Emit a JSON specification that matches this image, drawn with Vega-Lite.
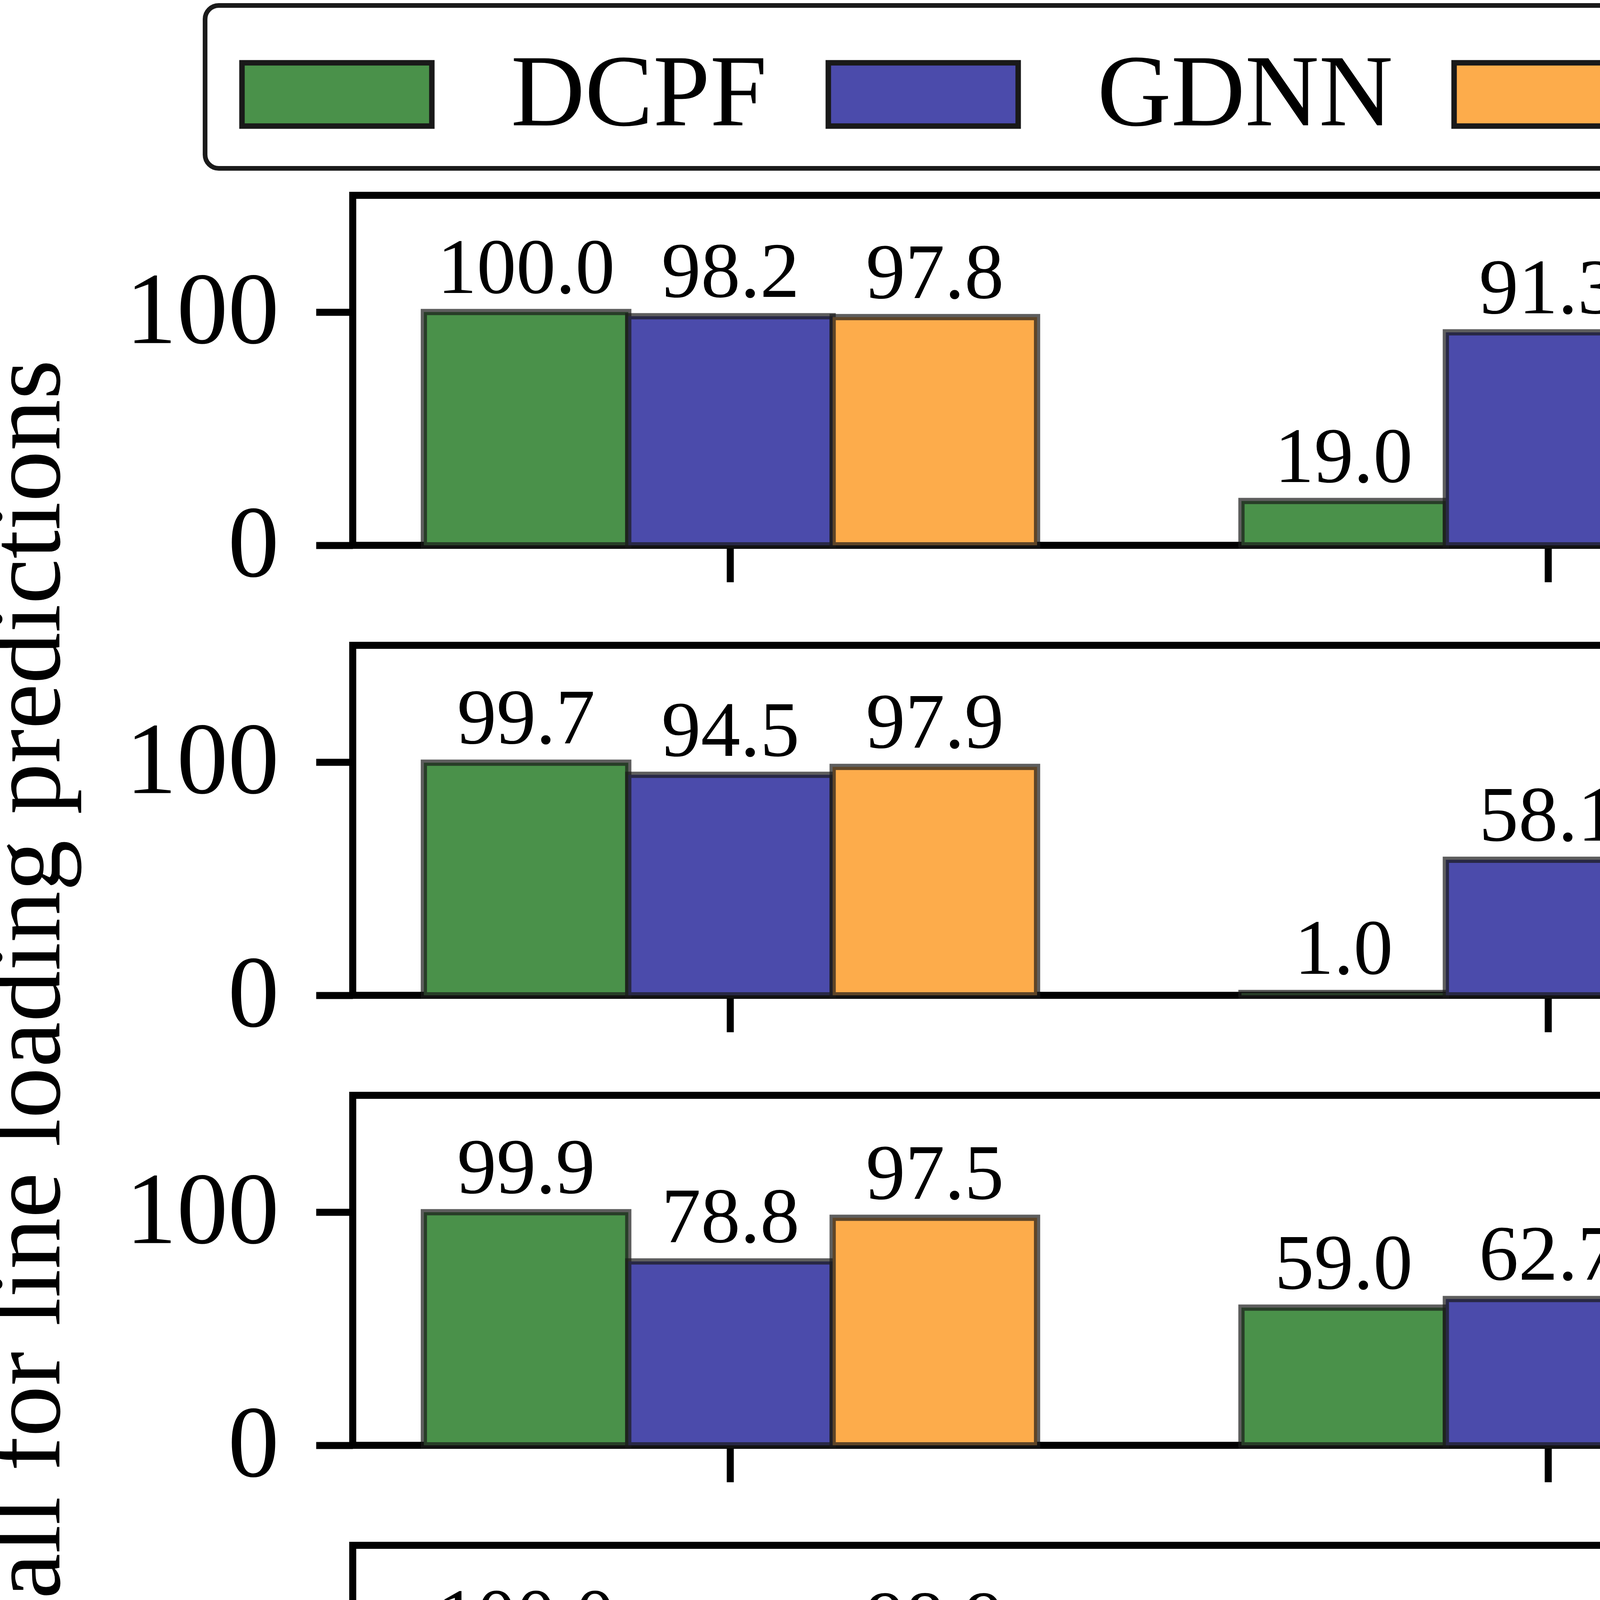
{
  "$schema": "https://vega.github.io/schema/vega-lite/v6.json",
  "background": "white",
  "padding": {"left": -59, "top": 8, "right": 0, "bottom": 0},
  "title": {"text": "% Recall for line loading predictions", "orient": "left", "anchor": "middle", "offset": -157, "dx": -232, "fontSize": 262, "font": "Liberation Serif", "fontWeight": "normal", "color": "black", "frame": "bounds", "baseline": "bottom"},
  "config": {
    "view": {"stroke": "black", "strokeWidth": 18},
    "axis": {"labelFont": "Liberation Serif", "titleFont": "Liberation Serif", "titleFontWeight": "normal", "labelColor": "black", "titleColor": "black", "tickColor": "black", "grid": false, "labelLimit": 0},
    "text": {"font": "Liberation Serif", "color": "black"},
    "legend": {
      "orient": "none", "legendX": -378, "legendY": -486, "direction": "horizontal",
      "strokeColor": "#1a1a1a", "strokeWidth": 12, "cornerRadius": 35, "fillColor": "white", "padding": 58,
      "symbolType": "M-1.5,-0.5H1.5V0.5H-1.5Z", "symbolSize": 105000, "symbolStrokeColor": "#191919", "symbolStrokeWidth": 14, "symbolOpacity": 1, "symbolOffset": 110,
      "labelFont": "Liberation Serif", "labelFontSize": 262, "labelOffset": 276, "labelColor": "black", "columnPadding": 120, "labelLimit": 0
    }
  },
  "datasets": {
    "recall": [
      {"system": "6 bus", "condition": "Un-congested", "method": "DCPF", "value": 100.0},
      {"system": "6 bus", "condition": "Un-congested", "method": "GDNN", "value": 98.2},
      {"system": "6 bus", "condition": "Un-congested", "method": "EVGNN", "value": 97.8},
      {"system": "6 bus", "condition": "Congested", "method": "DCPF", "value": 19.0},
      {"system": "6 bus", "condition": "Congested", "method": "GDNN", "value": 91.3},
      {"system": "6 bus", "condition": "Congested", "method": "EVGNN", "value": 98.7},
      {"system": "24 bus", "condition": "Un-congested", "method": "DCPF", "value": 99.7},
      {"system": "24 bus", "condition": "Un-congested", "method": "GDNN", "value": 94.5},
      {"system": "24 bus", "condition": "Un-congested", "method": "EVGNN", "value": 97.9},
      {"system": "24 bus", "condition": "Congested", "method": "DCPF", "value": 1.0},
      {"system": "24 bus", "condition": "Congested", "method": "GDNN", "value": 58.1},
      {"system": "24 bus", "condition": "Congested", "method": "EVGNN", "value": 36.0},
      {"system": "57 bus", "condition": "Un-congested", "method": "DCPF", "value": 99.9},
      {"system": "57 bus", "condition": "Un-congested", "method": "GDNN", "value": 78.8},
      {"system": "57 bus", "condition": "Un-congested", "method": "EVGNN", "value": 97.5},
      {"system": "57 bus", "condition": "Congested", "method": "DCPF", "value": 59.0},
      {"system": "57 bus", "condition": "Congested", "method": "GDNN", "value": 62.7},
      {"system": "57 bus", "condition": "Congested", "method": "EVGNN", "value": 38.6},
      {"system": "118 bus", "condition": "Un-congested", "method": "DCPF", "value": 100.0},
      {"system": "118 bus", "condition": "Un-congested", "method": "GDNN", "value": 88.1},
      {"system": "118 bus", "condition": "Un-congested", "method": "EVGNN", "value": 98.9},
      {"system": "118 bus", "condition": "Congested", "method": "GDNN", "value": 42.3},
      {"system": "118 bus", "condition": "Congested", "method": "EVGNN", "value": 34.7}
    ]
  },
  "columns": 2,
  "spacing": {"row": 107, "column": 75},
  "resolve": {"scale": {"color": "shared", "x": "independent", "y": "independent"}, "legend": {"color": "shared"}},
  "concat": [
    {
      "width": 4027, "height": 896,
      "data": {"name": "recall"},
      "transform": [{"filter": "datum.system === '6 bus'"}],
      "encoding": {
        "x": {"field": "condition", "type": "nominal", "sort": ["Un-congested", "Congested"], "scale": {"paddingInner": 0.25, "paddingOuter": 0.087}, "axis": {"title": null, "labels": false, "domain": false, "tickSize": 94, "tickWidth": 18}},
        "xOffset": {"field": "method", "type": "nominal", "sort": ["DCPF", "GDNN", "EVGNN"], "scale": {"domain": ["DCPF", "GDNN", "EVGNN"], "paddingInner": 0, "paddingOuter": 0}},
        "y": {"field": "value", "type": "quantitative", "scale": {"domain": [0, 150], "nice": false}, "axis": {"values": [0, 100], "labelFontSize": 262, "labelPadding": 95, "tickSize": 94, "tickWidth": 18, "domain": false, "title": null}}
      },
      "layer": [
        {"mark": {"type": "bar", "stroke": "#191919", "strokeOpacity": 0.7, "strokeWidth": 16}, "encoding": {"color": {"field": "method", "type": "nominal", "scale": {"domain": ["DCPF", "GDNN", "EVGNN"], "range": ["#4a914a", "#4b4bab", "#fdac4b"]}, "legend": {"title": null}}}},
        {"mark": {"type": "text", "baseline": "alphabetic", "dy": -49, "fontSize": 202}, "encoding": {"text": {"field": "value", "type": "quantitative", "format": ".1f"}}}
      ]
    },
    {
      "width": 706, "height": 896,
      "view": {"stroke": "transparent"},
      "data": {"values": [{"system": "6 bus"}]},
      "layer": [
        {"mark": {"type": "rect", "fill": "#dcdcdc", "stroke": "#1a1a1a", "strokeWidth": 16}, "encoding": {"x": {"datum": 0, "type": "quantitative", "scale": {"domain": [0, 1], "nice": false}, "axis": null}, "x2": {"datum": 1}, "y": {"datum": 57.5, "type": "quantitative", "scale": {"domain": [0, 150], "nice": false}, "axis": null}, "y2": {"datum": 115.3}}},
        {"mark": {"type": "text", "fontSize": 250, "align": "center", "baseline": "middle"}, "encoding": {"x": {"datum": 0.5, "type": "quantitative", "scale": {"domain": [0, 1], "nice": false}, "axis": null}, "y": {"datum": 89, "type": "quantitative", "scale": {"domain": [0, 150], "nice": false}, "axis": null}, "text": {"field": "system"}}}
      ]
    },
    {
      "width": 4027, "height": 896,
      "data": {"name": "recall"},
      "transform": [{"filter": "datum.system === '24 bus'"}],
      "encoding": {
        "x": {"field": "condition", "type": "nominal", "sort": ["Un-congested", "Congested"], "scale": {"paddingInner": 0.25, "paddingOuter": 0.087}, "axis": {"title": null, "labels": false, "domain": false, "tickSize": 94, "tickWidth": 18}},
        "xOffset": {"field": "method", "type": "nominal", "sort": ["DCPF", "GDNN", "EVGNN"], "scale": {"domain": ["DCPF", "GDNN", "EVGNN"], "paddingInner": 0, "paddingOuter": 0}},
        "y": {"field": "value", "type": "quantitative", "scale": {"domain": [0, 150], "nice": false}, "axis": {"values": [0, 100], "labelFontSize": 262, "labelPadding": 95, "tickSize": 94, "tickWidth": 18, "domain": false, "title": null}}
      },
      "layer": [
        {"mark": {"type": "bar", "stroke": "#191919", "strokeOpacity": 0.7, "strokeWidth": 16}, "encoding": {"color": {"field": "method", "type": "nominal", "scale": {"domain": ["DCPF", "GDNN", "EVGNN"], "range": ["#4a914a", "#4b4bab", "#fdac4b"]}, "legend": {"title": null}}}},
        {"mark": {"type": "text", "baseline": "alphabetic", "dy": -49, "fontSize": 202}, "encoding": {"text": {"field": "value", "type": "quantitative", "format": ".1f"}}}
      ]
    },
    {
      "width": 817, "height": 896,
      "view": {"stroke": "transparent"},
      "data": {"values": [{"system": "24 bus"}]},
      "layer": [
        {"mark": {"type": "rect", "fill": "#dcdcdc", "stroke": "#1a1a1a", "strokeWidth": 16}, "encoding": {"x": {"datum": 0, "type": "quantitative", "scale": {"domain": [0, 1], "nice": false}, "axis": null}, "x2": {"datum": 1}, "y": {"datum": 57.5, "type": "quantitative", "scale": {"domain": [0, 150], "nice": false}, "axis": null}, "y2": {"datum": 115.3}}},
        {"mark": {"type": "text", "fontSize": 250, "align": "center", "baseline": "middle"}, "encoding": {"x": {"datum": 0.5, "type": "quantitative", "scale": {"domain": [0, 1], "nice": false}, "axis": null}, "y": {"datum": 89, "type": "quantitative", "scale": {"domain": [0, 150], "nice": false}, "axis": null}, "text": {"field": "system"}}}
      ]
    },
    {
      "width": 4027, "height": 896,
      "data": {"name": "recall"},
      "transform": [{"filter": "datum.system === '57 bus'"}],
      "encoding": {
        "x": {"field": "condition", "type": "nominal", "sort": ["Un-congested", "Congested"], "scale": {"paddingInner": 0.25, "paddingOuter": 0.087}, "axis": {"title": null, "labels": false, "domain": false, "tickSize": 94, "tickWidth": 18}},
        "xOffset": {"field": "method", "type": "nominal", "sort": ["DCPF", "GDNN", "EVGNN"], "scale": {"domain": ["DCPF", "GDNN", "EVGNN"], "paddingInner": 0, "paddingOuter": 0}},
        "y": {"field": "value", "type": "quantitative", "scale": {"domain": [0, 150], "nice": false}, "axis": {"values": [0, 100], "labelFontSize": 262, "labelPadding": 95, "tickSize": 94, "tickWidth": 18, "domain": false, "title": null}}
      },
      "layer": [
        {"mark": {"type": "bar", "stroke": "#191919", "strokeOpacity": 0.7, "strokeWidth": 16}, "encoding": {"color": {"field": "method", "type": "nominal", "scale": {"domain": ["DCPF", "GDNN", "EVGNN"], "range": ["#4a914a", "#4b4bab", "#fdac4b"]}, "legend": {"title": null}}}},
        {"mark": {"type": "text", "baseline": "alphabetic", "dy": -49, "fontSize": 202}, "encoding": {"text": {"field": "value", "type": "quantitative", "format": ".1f"}}}
      ]
    },
    {
      "width": 817, "height": 896,
      "view": {"stroke": "transparent"},
      "data": {"values": [{"system": "57 bus"}]},
      "layer": [
        {"mark": {"type": "rect", "fill": "#dcdcdc", "stroke": "#1a1a1a", "strokeWidth": 16}, "encoding": {"x": {"datum": 0, "type": "quantitative", "scale": {"domain": [0, 1], "nice": false}, "axis": null}, "x2": {"datum": 1}, "y": {"datum": 57.5, "type": "quantitative", "scale": {"domain": [0, 150], "nice": false}, "axis": null}, "y2": {"datum": 115.3}}},
        {"mark": {"type": "text", "fontSize": 250, "align": "center", "baseline": "middle"}, "encoding": {"x": {"datum": 0.5, "type": "quantitative", "scale": {"domain": [0, 1], "nice": false}, "axis": null}, "y": {"datum": 89, "type": "quantitative", "scale": {"domain": [0, 150], "nice": false}, "axis": null}, "text": {"field": "system"}}}
      ]
    },
    {
      "width": 4027, "height": 896,
      "data": {"name": "recall"},
      "transform": [{"filter": "datum.system === '118 bus'"}],
      "encoding": {
        "x": {"field": "condition", "type": "nominal", "sort": ["Un-congested", "Congested"], "scale": {"paddingInner": 0.25, "paddingOuter": 0.087}, "axis": {"title": null, "labels": true, "labelAngle": 0, "labelFontSize": 255, "labelPadding": 26, "labelBaseline": "top", "domain": false, "tickSize": 94, "tickWidth": 18}},
        "xOffset": {"field": "method", "type": "nominal", "sort": ["DCPF", "GDNN", "EVGNN"], "scale": {"domain": ["DCPF", "GDNN", "EVGNN"], "paddingInner": 0, "paddingOuter": 0}},
        "y": {"field": "value", "type": "quantitative", "scale": {"domain": [0, 150], "nice": false}, "axis": {"values": [0, 100], "labelFontSize": 262, "labelPadding": 95, "tickSize": 94, "tickWidth": 18, "domain": false, "title": null}}
      },
      "layer": [
        {"mark": {"type": "bar", "stroke": "#191919", "strokeOpacity": 0.7, "strokeWidth": 16}, "encoding": {"color": {"field": "method", "type": "nominal", "scale": {"domain": ["DCPF", "GDNN", "EVGNN"], "range": ["#4a914a", "#4b4bab", "#fdac4b"]}, "legend": {"title": null}}}},
        {"mark": {"type": "text", "baseline": "alphabetic", "dy": -49, "fontSize": 202}, "encoding": {"text": {"field": "value", "type": "quantitative", "format": ".1f"}}}
      ]
    },
    {
      "width": 878, "height": 896,
      "view": {"stroke": "transparent"},
      "data": {"values": [{"system": "118 bus"}]},
      "layer": [
        {"mark": {"type": "rect", "fill": "#dcdcdc", "stroke": "#1a1a1a", "strokeWidth": 16}, "encoding": {"x": {"datum": 0, "type": "quantitative", "scale": {"domain": [0, 1], "nice": false}, "axis": null}, "x2": {"datum": 1}, "y": {"datum": 57.5, "type": "quantitative", "scale": {"domain": [0, 150], "nice": false}, "axis": null}, "y2": {"datum": 115.3}}},
        {"mark": {"type": "text", "fontSize": 250, "align": "center", "baseline": "middle"}, "encoding": {"x": {"datum": 0.5, "type": "quantitative", "scale": {"domain": [0, 1], "nice": false}, "axis": null}, "y": {"datum": 89, "type": "quantitative", "scale": {"domain": [0, 150], "nice": false}, "axis": null}, "text": {"field": "system"}}}
      ]
    }
  ]
}
